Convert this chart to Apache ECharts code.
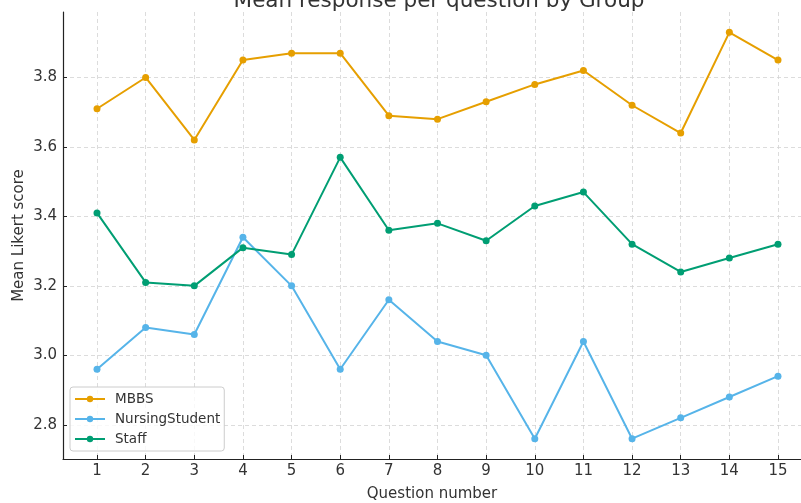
<!DOCTYPE html>
<html><head><meta charset="utf-8">
<script src="https://cdn.jsdelivr.net/npm/echarts@6/dist/echarts.min.js"></script>
<style>html,body{margin:0;padding:0;background:#fff}#c{width:801px;height:503px}</style>
</head><body><div id="c"></div>
<script>
const questions = [1,2,3,4,5,6,7,8,9,10,11,12,13,14,15];
const mbbs = [3.71,3.80,3.62,3.85,3.87,3.87,3.69,3.68,3.73,3.78,3.82,3.72,3.64,3.93,3.85];
const nursing = [2.96,3.08,3.06,3.34,3.20,2.96,3.16,3.04,3.00,2.76,3.04,2.76,2.82,2.88,2.94];
const staff = [3.41,3.21,3.20,3.31,3.29,3.57,3.36,3.38,3.33,3.43,3.47,3.32,3.24,3.28,3.32];
const yTicks = [2.8,3.0,3.2,3.4,3.6,3.8];
const names = ['MBBS','NursingStudent','Staff'];
const colors = ['#E69F00','#56B4E9','#009E73'];

const chart = echarts.init(document.getElementById('c'), null, {renderer:'canvas'});
const mk = (name, vals, color) => ({
  name, type:'line', data: questions.map((q,i)=>[q, vals[i]]),
  symbol:'circle', symbolSize:7, lineStyle:{width:2, color}, itemStyle:{color},
  emphasis:{disabled:true}, animation:false
});
const font = 'DejaVu Sans';
chart.setOption({
  animation:false,
  title:{text:'Mean response per question by Group', left:434, textAlign:'center', top:-14.5,
    textStyle:{fontFamily:font, fontSize:21.5, fontWeight:'normal', color:'#333'}},
  grid:{left:63, top:12, width:738, height:447, containLabel:false, outerBoundsMode:'none'},
  legend:{orient:'vertical', left:70, top:387, itemWidth:30, itemHeight:8, itemGap:6,
    padding:[5,4,5,4], borderColor:'#ccc', borderWidth:1, borderRadius:3, backgroundColor:'rgba(255,255,255,0.8)',
    textStyle:{fontFamily:font, fontSize:13.5, color:'#333', padding:[0,0,0,5]}, data:names},
  xAxis:{type:'value', min:0.301, max:15.473,
    name:'Question number', nameLocation:'middle', nameGap:28, nameMoveOverlap:false,
    nameTextStyle:{fontFamily:font, fontSize:15, color:'#333'},
    axisLine:{show:true, onZero:false, lineStyle:{color:'#222', width:1.2}},
    axisTick:{show:true, inside:true, length:4, customValues:questions, lineStyle:{color:'#222'}},
    axisLabel:{customValues:questions, fontFamily:font, fontSize:15, color:'#333', margin:5},
    splitLine:{show:true, lineStyle:{type:[4,3], color:'#d3d3d3', width:0.8}}},
  yAxis:{type:'value', min:2.7015, max:3.9885,
    name:'Mean Likert score', nameLocation:'middle', nameGap:36, nameMoveOverlap:false,
    nameTextStyle:{fontFamily:font, fontSize:15, color:'#333'},
    axisLine:{show:true, onZero:false, lineStyle:{color:'#222', width:1.2}},
    axisTick:{show:true, inside:true, length:4, customValues:yTicks, lineStyle:{color:'#222'}},
    axisLabel:{customValues:yTicks, formatter:v=>v.toFixed(1), fontFamily:font, fontSize:15, color:'#333', margin:6},
    splitLine:{show:true, lineStyle:{type:[4,3], color:'#d3d3d3', width:0.8}}},
  series:[mk(names[0], mbbs, colors[0]), mk(names[1], nursing, colors[1]), mk(names[2], staff, colors[2])]
});
</script></body></html>
